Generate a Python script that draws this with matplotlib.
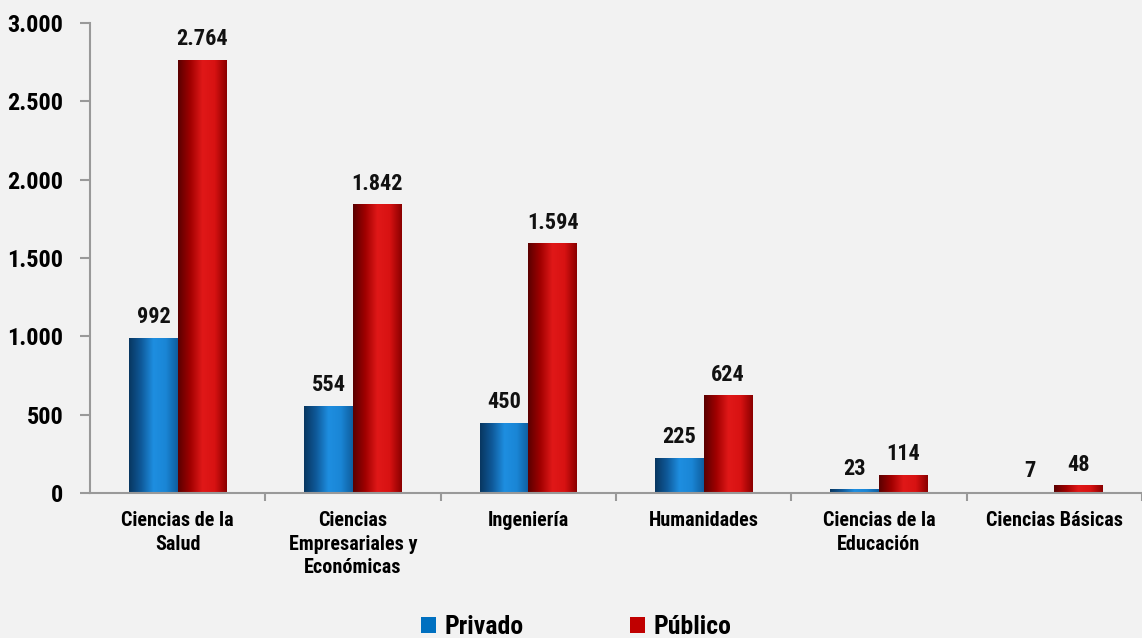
import matplotlib
matplotlib.use("Agg")
import matplotlib.pyplot as plt
import numpy as np
from matplotlib import font_manager
from matplotlib.colors import LinearSegmentedColormap
from matplotlib.patches import Patch

categories = ["Ciencias de la\nSalud", "Ciencias\nEmpresariales y\nEconómicas", "Ingeniería",
              "Humanidades", "Ciencias de la\nEducación", "Ciencias Básicas"]
privado = [992, 554, 450, 225, 23, 7]
publico = [2764, 1842, 1594, 624, 114, 48]
series_names = ["Privado", "Público"]
yticks = [0, 500, 1000, 1500, 2000, 2500, 3000]
ytick_labels = ["0", "500", "1.000", "1.500", "2.000", "2.500", "3.000"]

def fmt(v):
    return f"{v:,}".replace(",", ".")

def _w(f):
    try:
        return int(f.weight)
    except (TypeError, ValueError):
        return 700 if "bold" in str(f.weight).lower() else 400

bold_names = {f.name for f in font_manager.fontManager.ttflist if _w(f) >= 700}
candidates = ["Arial Narrow", "Liberation Sans Narrow", "Archivo Narrow", "Roboto Condensed",
              "PT Sans Narrow", "Pragati Narrow", "Sofia Sans Condensed", "Encode Sans Condensed",
              "Fira Sans Condensed", "IBM Plex Sans Condensed", "Liberation Sans"]
chosen = next((c for c in candidates if c in bold_names), "DejaVu Sans")
narrow = chosen not in ("Liberation Sans", "DejaVu Sans")
FONT = [chosen, "DejaVu Sans"]
plt.rcParams["font.family"] = FONT
plt.rcParams["font.weight"] = "bold"
k = 1.0 if narrow else 0.9

BG = "#f2f2f2"
fig = plt.figure(figsize=(11.42, 6.38), dpi=100, facecolor=BG)
ax = fig.add_axes([90/1142, (638-493)/638, 1-90/1142, (493-23)/638])
ax.set_facecolor(BG)

blue_cmap = LinearSegmentedColormap.from_list("b", ["#083660", "#0f5a9a", "#1e8ee0", "#1a86d6", "#0f5e9e"])
red_cmap = LinearSegmentedColormap.from_list("r", ["#5a0000", "#a00000", "#e01818", "#d81212", "#8a0000"])

x = np.arange(len(categories))
w = 0.277
bars_p = ax.bar(x - w/2, privado, w, color="none", edgecolor="none")
bars_u = ax.bar(x + w/2, publico, w, color="none", edgecolor="none")

grad = np.linspace(0, 1, 256).reshape(1, -1)
for bars, cmap in ((bars_p, blue_cmap), (bars_u, red_cmap)):
    for b in bars:
        x0 = b.get_x(); x1 = x0 + b.get_width(); h = b.get_height()
        im = ax.imshow(grad, cmap=cmap, aspect="auto", extent=(x0, x1, 0, h),
                       interpolation="bilinear", zorder=2)
        im.set_clip_path(b)

for vals, off in ((privado, -w/2), (publico, w/2)):
    for xi, v in zip(x, vals):
        ax.annotate(fmt(v), (xi + off, v), xytext=(0, 7), textcoords="offset points",
                    ha="center", va="bottom", fontsize=16*k, fontweight="bold", color="#111111")

ax.set_xlim(-0.5, -0.5 + 1052/176.5)
ax.set_ylim(0, 3000)
ax.set_yticks(yticks)
ax.set_yticklabels(ytick_labels, fontsize=17.5*k, fontweight="bold")
ax.set_xticks(x)
ax.set_xticklabels(categories, fontsize=14.5*k, fontweight="bold", linespacing=1.3)
ax.set_xticks(np.arange(len(categories)) + 0.5, minor=True)
ax.tick_params(axis="x", which="major", length=0, pad=13)
ax.tick_params(axis="x", which="minor", length=6, width=1.5, color="#999999", direction="out")
ax.tick_params(axis="y", length=7, width=1.5, color="#999999", direction="out", pad=12)
for s in ("top", "right"):
    ax.spines[s].set_visible(False)
for s in ("left", "bottom"):
    ax.spines[s].set_color("#999999")
    ax.spines[s].set_linewidth(1.5)

handles = [Patch(facecolor="#0070c0"), Patch(facecolor="#c00000")]
fig.legend(handles, series_names, loc="center", bbox_to_anchor=(576/1142, 1-627/638),
           ncol=2, frameon=False, prop={"family": FONT, "weight": "bold", "size": 18.5*k},
           handlelength=0.6, handleheight=0.6, handletextpad=0.3, columnspacing=4.15)

fig.savefig("out.png", dpi=100, facecolor=BG)
